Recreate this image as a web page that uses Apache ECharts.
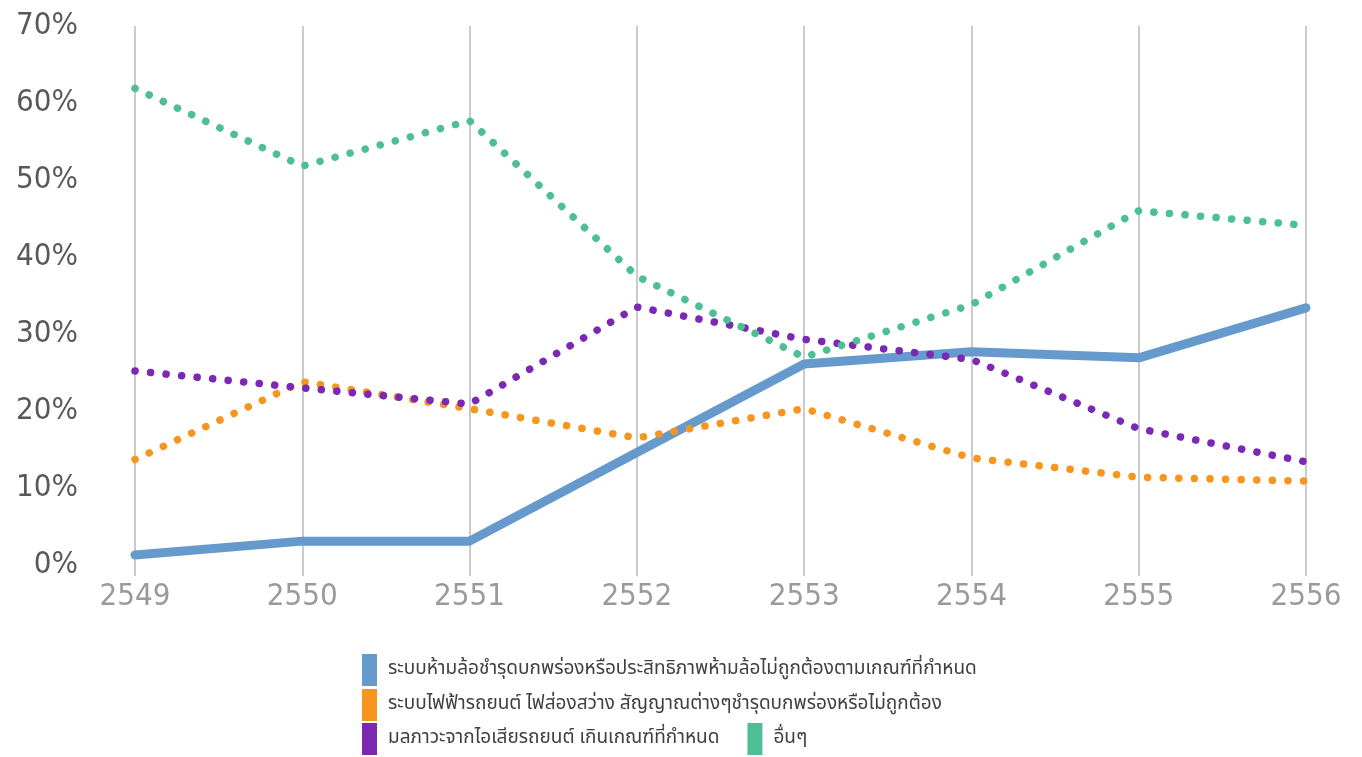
<!DOCTYPE html>
<html>
<head>
<meta charset="utf-8">
<script src="https://cdn.jsdelivr.net/npm/echarts@6/dist/echarts.min.js"></script>
<style>
html,body{margin:0;padding:0;background:#fff;}
#main{width:1362px;height:757px;}
</style>
</head>
<body>
<div id="main"></div>
<script>
var years = ['2549','2550','2551','2552','2553','2554','2555','2556'];
var seriesNames = [
  'ระบบห้ามล้อชำรุดบกพร่องหรือประสิทธิภาพห้ามล้อไม่ถูกต้องตามเกณฑ์ที่กำหนด',
  'ระบบไฟฟ้ารถยนต์ ไฟส่องสว่าง สัญญาณต่างๆชำรุดบกพร่องหรือไม่ถูกต้อง',
  'มลภาวะจากไอเสียรถยนต์ เกินเกณฑ์ที่กำหนด',
  'อื่นๆ'
];
var brakes   = [1.3, 3.1, 3.1, 14.6, 26.1, 27.7, 26.9, 33.4];
var lights   = [13.7, 23.8, 20.3, 16.5, 20.3, 13.9, 11.4, 10.9];
var emission = [25.2, 23.0, 20.9, 33.5, 29.3, 26.7, 17.7, 13.4];
var others   = [61.9, 51.8, 57.7, 37.5, 27.0, 33.8, 46.0, 44.1];
var colors = ['#6699CC', '#F7961F', '#7B29B4', '#4DBF94'];

var numFont = '"Liberation Sans Narrow", "Arial Narrow", "DejaVu Sans Condensed", "Roboto", sans-serif';
var legFont = '"Noto Sans Thai", "Tahoma", "DejaVu Sans", "Noto Sans", sans-serif';

function dotted(name, data, color) {
  return {
    name: name, type: 'line', data: data, showSymbol: false, symbol: 'none',
    itemStyle: { color: color },
    lineStyle: { color: color, width: 7.5, type: [0.1, 15.5], cap: 'round', join: 'round' },
    animation: false
  };
}
function legendAt(top, data) {
  return {
    left: 362, top: top, padding: 0, orient: 'horizontal',
    icon: 'rect', itemWidth: 15, itemHeight: 32, itemGap: 28,
    data: data,
    textStyle: { fontFamily: legFont, fontSize: 19, color: '#404040', padding: [0, 0, 0, 6] }
  };
}

var chart = echarts.init(document.getElementById('main'));
chart.setOption({
  animation: false,
  color: colors,
  grid: { left: 135, right: 56, top: 26, bottom: 192, containLabel: false },
  xAxis: {
    type: 'category', data: years, boundaryGap: false,
    axisLine: { show: false },
    axisTick: { show: true, alignWithLabel: true, length: 11, lineStyle: { color: '#CBCBCB', width: 2 } },
    splitLine: { show: true, lineStyle: { color: '#CBCBCB', width: 2 } },
    axisLabel: { fontFamily: numFont, fontSize: 31, color: '#9A9A9A', margin: 16 }
  },
  yAxis: {
    type: 'value', min: 0, max: 70, interval: 10,
    axisLine: { show: false }, axisTick: { show: false },
    splitLine: { show: false },
    axisLabel: { fontFamily: numFont, fontSize: 31, color: '#595959', margin: 57, formatter: '{value}%' }
  },
  legend: [
    legendAt(654, [seriesNames[0]]),
    legendAt(689, [seriesNames[1]]),
    legendAt(723, [seriesNames[2], seriesNames[3]])
  ],
  series: [
    {
      name: seriesNames[0], type: 'line', data: brakes, showSymbol: false, symbol: 'none',
      itemStyle: { color: colors[0] },
      lineStyle: { color: colors[0], width: 9, cap: 'round', join: 'round' },
      animation: false
    },
    dotted(seriesNames[1], lights, colors[1]),
    dotted(seriesNames[2], emission, colors[2]),
    dotted(seriesNames[3], others, colors[3])
  ]
});
</script>
</body>
</html>
